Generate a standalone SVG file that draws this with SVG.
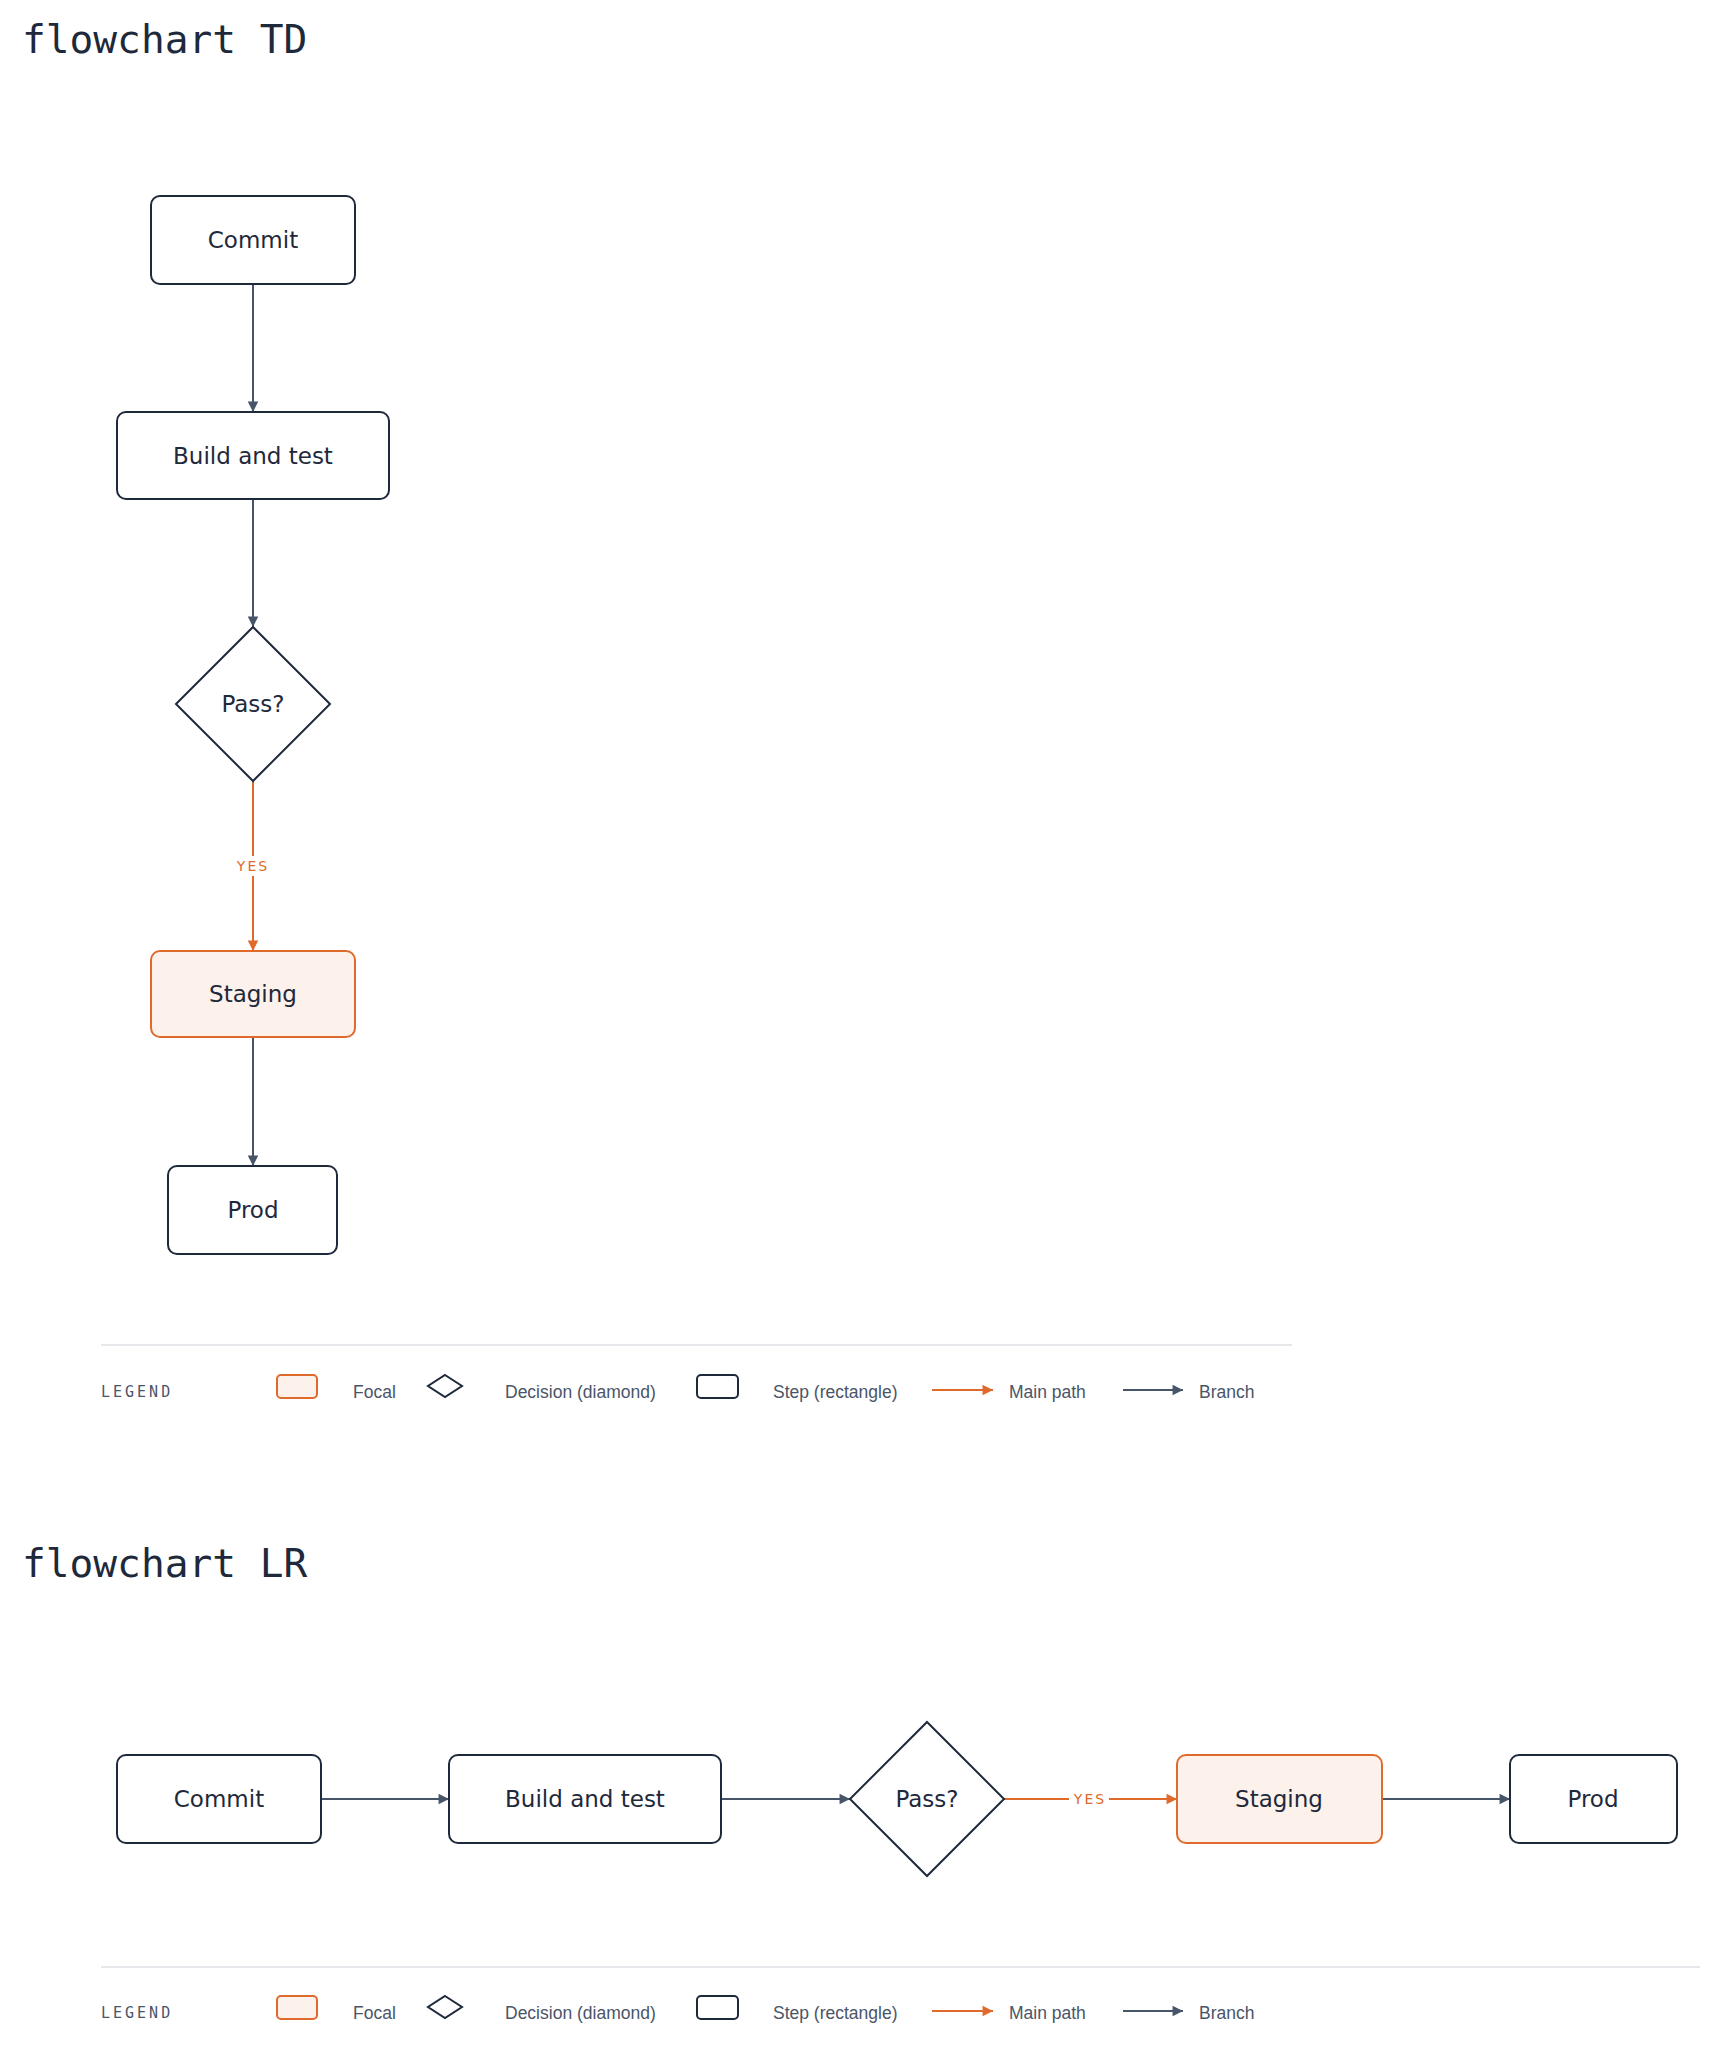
<svg xmlns="http://www.w3.org/2000/svg" width="1717" height="2048" viewBox="0 0 1717 2048">
<style>
.title{font-family:"DejaVu Sans Mono",monospace;font-size:39.5px;fill:#1e293b}
.node{fill:#fff;stroke:#1e293b;stroke-width:2}
.focal{fill:#fdf1ec;stroke:#e06a2c;stroke-width:2}
.lbl{font-family:"DejaVu Sans",sans-serif;font-size:23px;fill:#1e293b;text-anchor:middle;dominant-baseline:central}
.e{stroke:#475569;stroke-width:2;fill:none;marker-end:url(#ag)}
.m{stroke:#e06a2c;stroke-width:2;fill:none;marker-end:url(#ao)}
.yes{font-family:"DejaVu Sans",sans-serif;font-size:14px;fill:#e06a2c;letter-spacing:2px;text-anchor:middle;dominant-baseline:central}
.lg{font-family:"DejaVu Sans Mono",monospace;font-size:15px;fill:#4a5568;letter-spacing:3px;dominant-baseline:central}
.lt{font-family:"Liberation Sans",Arial,sans-serif;font-size:17.5px;fill:#4a5568;dominant-baseline:central}
.rule{stroke:#e5e7eb;stroke-width:2}
</style>
<defs>
<marker id="ag" viewBox="0 0 10 10" refX="10" refY="5" markerWidth="7" markerHeight="7" markerUnits="userSpaceOnUse" orient="auto" style="overflow:visible"><path d="M0,0L10,5L0,10z" fill="#475569" transform="scale(1.5) translate(-3.3,-1.67)"/></marker>
<marker id="ao" viewBox="0 0 10 10" refX="10" refY="5" markerWidth="7" markerHeight="7" markerUnits="userSpaceOnUse" orient="auto" style="overflow:visible"><path d="M0,0L10,5L0,10z" fill="#e06a2c" transform="scale(1.5) translate(-3.3,-1.67)"/></marker>
</defs>
<rect width="1717" height="2048" fill="#fff"/>
<text class="title" x="22" y="53">flowchart TD</text>
<g id="connectors-td">
<path class="e" d="M253,284V412"/>
<path class="e" d="M253,499V627"/>
<path class="m" d="M253,781V951"/>
<rect x="233" y="856" width="40" height="20" fill="#fff"/>
<text class="yes" x="253" y="866">YES</text>
<path class="e" d="M253,1037V1166"/>
</g>
<g id="td-commit"><rect class="node" x="151" y="196" width="204" height="88" rx="9"/><text class="lbl" x="253" y="240">Commit</text></g>
<g id="td-build"><rect class="node" x="117" y="412" width="272" height="87" rx="9"/><text class="lbl" x="253" y="456">Build and test</text></g>
<g id="td-pass"><path class="node" d="M253,627L330,704L253,781L176,704Z"/><text class="lbl" x="253" y="704">Pass?</text></g>
<g id="td-staging"><rect class="focal" x="151" y="951" width="204" height="86" rx="9"/><text class="lbl" x="253" y="994">Staging</text></g>
<g id="td-prod"><rect class="node" x="168" y="1166" width="169" height="88" rx="9"/><text class="lbl" x="253" y="1210">Prod</text></g>
<g id="legend-td">
<line class="rule" x1="101" y1="1345" x2="1292" y2="1345"/>
<text class="lg" x="101" y="1392">LEGEND</text>
<rect class="focal" x="277" y="1375" width="40" height="23" rx="4"/>
<text class="lt" x="353" y="1392">Focal</text>
<path d="M445,1375L462,1386L445,1397L428,1386Z" fill="#fff" stroke="#1e293b" stroke-width="2"/>
<text class="lt" x="505" y="1392">Decision (diamond)</text>
<rect x="697" y="1375" width="41" height="23" rx="4" fill="#fff" stroke="#1e293b" stroke-width="2"/>
<text class="lt" x="773" y="1392">Step (rectangle)</text>
<path class="m" d="M932,1390H993"/>
<text class="lt" x="1009" y="1392">Main path</text>
<path class="e" d="M1123,1390H1183"/>
<text class="lt" x="1199" y="1392">Branch</text>
</g>
<text class="title" x="22" y="1577">flowchart LR</text>
<g id="connectors-lr">
<path class="e" d="M321,1799H449"/>
<path class="e" d="M721,1799H850"/>
<path class="m" d="M1004,1799H1177"/>
<rect x="1069" y="1789" width="40" height="20" fill="#fff"/>
<text class="yes" x="1090" y="1799">YES</text>
<path class="e" d="M1382,1799H1510"/>
</g>
<g id="lr-commit"><rect class="node" x="117" y="1755" width="204" height="88" rx="9"/><text class="lbl" x="219" y="1799">Commit</text></g>
<g id="lr-build"><rect class="node" x="449" y="1755" width="272" height="88" rx="9"/><text class="lbl" x="585" y="1799">Build and test</text></g>
<g id="lr-pass"><path class="node" d="M927,1722L1004,1799L927,1876L850,1799Z"/><text class="lbl" x="927" y="1799">Pass?</text></g>
<g id="lr-staging"><rect class="focal" x="1177" y="1755" width="205" height="88" rx="9"/><text class="lbl" x="1279" y="1799">Staging</text></g>
<g id="lr-prod"><rect class="node" x="1510" y="1755" width="167" height="88" rx="9"/><text class="lbl" x="1593" y="1799">Prod</text></g>
<g id="legend-lr">
<line class="rule" x1="101" y1="1967" x2="1700" y2="1967"/>
<text class="lg" x="101" y="2013">LEGEND</text>
<rect class="focal" x="277" y="1996" width="40" height="23" rx="4"/>
<text class="lt" x="353" y="2013">Focal</text>
<path d="M445,1996L462,2007L445,2018L428,2007Z" fill="#fff" stroke="#1e293b" stroke-width="2"/>
<text class="lt" x="505" y="2013">Decision (diamond)</text>
<rect x="697" y="1996" width="41" height="23" rx="4" fill="#fff" stroke="#1e293b" stroke-width="2"/>
<text class="lt" x="773" y="2013">Step (rectangle)</text>
<path class="m" d="M932,2011H993"/>
<text class="lt" x="1009" y="2013">Main path</text>
<path class="e" d="M1123,2011H1183"/>
<text class="lt" x="1199" y="2013">Branch</text>
</g>
</svg>
